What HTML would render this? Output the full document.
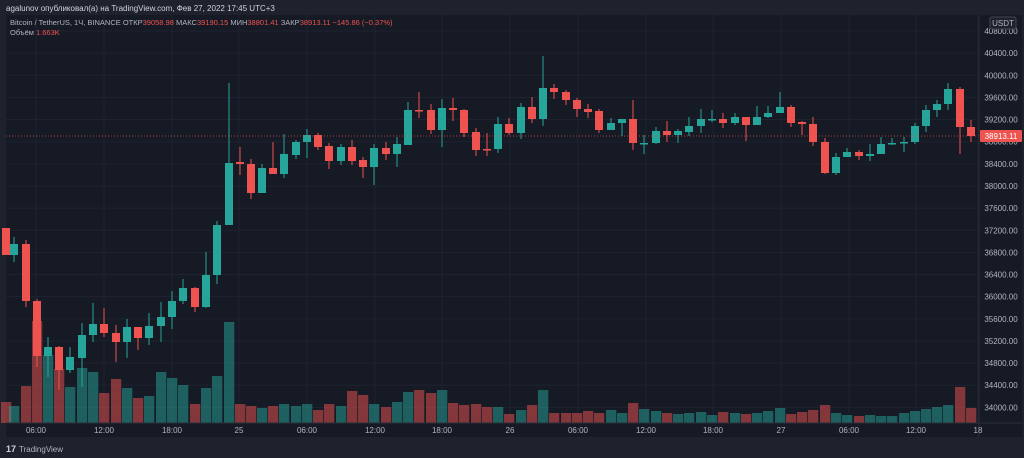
<!DOCTYPE html>
<html><head><meta charset="utf-8"><style>
html,body{margin:0;padding:0;background:#1e222d;width:1024px;height:458px;overflow:hidden;font-family:"Liberation Sans","Noto Sans CJK SC",sans-serif}
svg{position:absolute;left:0;top:0}
</style></head><body>
<svg id="s" width="1024" height="458" xmlns="http://www.w3.org/2000/svg">
<rect x="0" y="0" width="1024" height="458" fill="#1e222d"/>
<rect x="6" y="15" width="1016" height="422" fill="#161a25"/>
<g id="grid"></g>
<g id="vol"></g>
<g id="cd"></g>
<line x1="6" y1="136" x2="979" y2="136" stroke="#ef5350" stroke-width="1" stroke-dasharray="1,2" opacity="0.7"/>
<line x1="979" y1="15" x2="979" y2="437" stroke="#2a2e39"/>
<line x1="6" y1="423" x2="1022" y2="423" stroke="#2a2e39"/>
<g id="ax" font-size="8" fill="#b2b5be"></g>
<rect x="990" y="17" width="26" height="12" rx="2" fill="#1e222d" stroke="#434651"/>
<text x="1003" y="26" font-size="8" fill="#b2b5be" text-anchor="middle">USDT</text>
<rect x="980" y="130" width="42" height="12" rx="1" fill="#ef5350"/>
<text x="1001" y="139" font-size="8" fill="#fff" text-anchor="middle">38913.11</text>
<text x="6" y="11" font-size="8" fill="#d1d4dc">agalunov опубликовал(а) на TradingView.com, Фев 27, 2022 17:45 UTC+3</text>
<text x="10" y="25" font-size="7.5" fill="#b2b5be">Bitcoin / TetherUS, 1Ч, BINANCE  ОТКР<tspan fill="#ef5350">39058.98</tspan>  МАКС<tspan fill="#ef5350">39190.15</tspan>  МИН<tspan fill="#ef5350">38801.41</tspan>  ЗАКР<tspan fill="#ef5350">38913.11  −145.86 (−0.37%)</tspan></text>
<text x="10" y="35" font-size="7.5" fill="#b2b5be">Объём  <tspan fill="#ef5350">1.663K</tspan></text>
<text x="6" y="452" font-size="9" font-weight="bold" fill="#d1d4dc">17</text>
<text x="19" y="452" font-size="8" fill="#b2b5be">TradingView</text>
</svg>
<script>
var NS="http://www.w3.org/2000/svg";
function el(p,t,a,txt){var e=document.createElementNS(NS,t);for(var k in a)e.setAttribute(k,a[k]);if(txt)e.textContent=txt;document.getElementById(p).appendChild(e);}
var G="#26a69a",R="#ef5350";
// price labels
for(var i=0;i<18;i++){var y=31+i*22.14;var p=40800-i*400;
el("grid","line",{x1:6,y1:y,x2:979,y2:y,stroke:"#1f2330"});
el("ax","text",{x:1001,y:y+3,"text-anchor":"middle"},p.toFixed(2));}
var tl=[[36,"06:00"],[104,"12:00"],[172,"18:00"],[239,"25"],[307,"06:00"],[375,"12:00"],[442,"18:00"],[510,"26"],[578,"06:00"],[646,"12:00"],[713,"18:00"],[781,"27"],[849,"06:00"],[916,"12:00"],[978,"18"]];
tl.forEach(function(t){el("grid","line",{x1:t[0],y1:15,x2:t[0],y2:423,stroke:"#1f2330"});el("ax","text",{x:t[0],y:433,"text-anchor":"middle"},t[1]);});
// candles: x, open, close, high, low (pixel y)
var c=[[6,228,255,228,255],[14,255,244,237,262],[26,244,301,240,307],[37,301,356,299,367],[48,356,347,337,377],[59,347,370,346,390],[70,370,357,347,373],[82,358,335,323,387],[93,335,324,303,342],[104,324,333,308,337],[116,333,342,325,362],[127,342,327,319,358],[138,327,338,327,350],[149,338,326,313,345],[161,326,317,302,342],[172,317,301,291,329],[183,301,288,279,304],[195,288,307,287,312],[206,307,275,252,308],[217,275,225,221,284],[229,225,163,83,225],[240,162,164,147,175],[251,164,193,159,199],[262,193,168,164,193],[273,168,174,142,174],[284,174,154,134,178],[296,155,142,140,159],[307,142,135,129,158],[318,135,147,133,150],[329,146,161,143,169],[341,161,147,144,165],[352,147,161,140,165],[363,160,167,157,178],[374,167,148,144,185],[386,148,154,142,160],[397,154,144,137,167],[408,145,110,102,145],[419,110,111,92,118],[431,110,130,104,134],[442,130,108,99,147],[453,108,110,98,121],[464,110,133,109,137],[476,132,150,128,156],[487,149,150,133,156],[498,149,124,117,153],[509,124,133,118,135],[521,133,107,103,139],[532,107,119,97,123],[543,119,88,56,126],[554,88,92,84,99],[566,92,100,90,105],[577,100,109,98,117],[588,109,112,104,118],[599,111,130,109,133],[611,130,123,118,130],[622,123,119,119,136],[633,119,143,100,150],[644,144,143,135,154],[656,143,131,127,144],[667,131,135,121,142],[678,135,131,129,143],[689,132,126,117,136],[701,126,119,109,133],[712,120,119,110,122],[723,119,123,113,128],[735,123,117,113,125],[746,117,125,117,141],[757,125,117,106,125],[768,117,113,106,118],[780,113,107,92,113],[791,107,123,105,127],[802,122,124,121,135],[813,124,142,117,146],[825,142,173,138,174],[836,173,157,153,175],[847,157,152,148,157],[859,152,156,150,160],[870,156,154,144,161],[881,154,144,137,154],[892,144,143,138,145],[904,143,142,137,152],[915,142,126,123,144],[926,126,110,105,132],[937,110,104,100,117],[948,104,89,83,110],[960,89,127,87,154],[971,127,136,120,142]];
var v=[402,406,386,321,355,369,387,368,372,393,379,388,398,396,372,378,385,404,388,376,322,404,406,408,406,404,406,404,410,404,406,391,395,404,407,402,392,390,393,390,403,405,404,407,407,414,410,405,390,413,413,413,411,413,410,413,403,409,411,413,414,413,412,415,412,413,414,413,411,408,414,412,410,405,413,415,416,415,416,416,413,411,409,407,405,387,408];
c.forEach(function(d,i){var up=d[2]<d[1]||(d[2]==d[1]&&i%2==0&&false);var col=up?G:R;
if(i==42||i==44-0&&false){} 
var vc=up?"rgba(38,166,154,0.5)":"rgba(239,83,80,0.5)";
var vy=v[i];el("vol","rect",{x:d[0]-5,y:vy,width:10.3,height:423-vy,fill:vc});
el("cd","line",{x1:d[0],y1:d[3],x2:d[0],y2:d[4],stroke:col,"stroke-width":1});
var t=Math.min(d[1],d[2]),h=Math.max(1.5,Math.abs(d[2]-d[1]));
el("cd","rect",{x:d[0]-4,y:t,width:8,height:h,fill:col});});
</script>
</body></html>
